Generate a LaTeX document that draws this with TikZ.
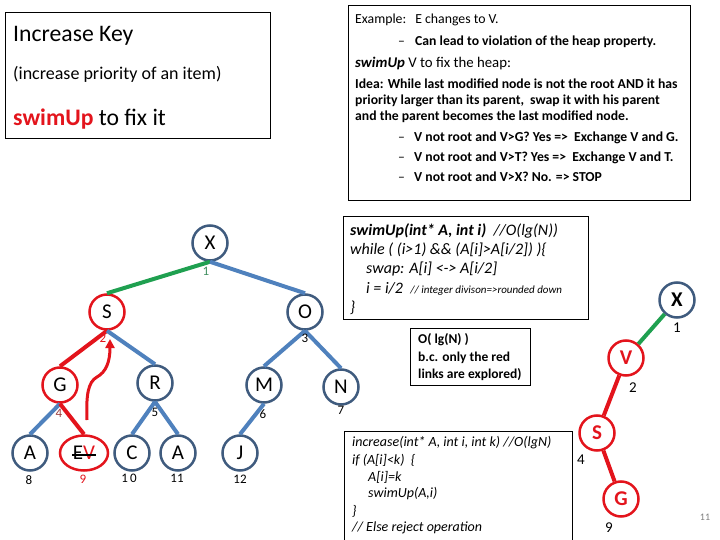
\documentclass[tikz,border=0pt]{standalone}
\usepackage{fontspec}
\setmainfont{Carlito}
\usetikzlibrary{arrows.meta,shapes.geometric}
\definecolor{eblue}{HTML}{4F81BD}
\definecolor{nblue}{HTML}{3F5B7E}
\definecolor{hred}{HTML}{E3141C}
\definecolor{hgreen}{HTML}{1FA050}
\definecolor{lgreen}{HTML}{3F8F5F}
\definecolor{dred}{HTML}{9A3A3A}
\tikzset{
  hn/.style={circle, draw=nblue, line width=2.5pt, minimum size=35pt, inner sep=0pt, font=\fontsize{21}{21}\selectfont},
  rn/.style={hn, draw=hred},
  bedge/.style={eblue, line width=4pt},
  redge/.style={hred, line width=4pt},
  gedge/.style={hgreen, line width=4pt},
  idx/.style={inner sep=0pt, font=\fontsize{13}{13}\selectfont},
  box/.style={draw, line width=0.8pt, anchor=north west, inner sep=0pt},
  txt/.style={anchor=base west, inner sep=0pt},
  exb/.style={txt, font=\fontsize{13.7}{13.7}\selectfont\bfseries},
  cod/.style={txt, font=\fontsize{16}{16}\selectfont\itshape},
  inc/.style={txt, font=\fontsize{14}{14}\selectfont\itshape},
}
\begin{document}
\begin{tikzpicture}[x=1pt,y=-1pt]
\useasboundingbox (0,0) rectangle (720,540);
% box 1
\node[box, minimum width=265pt, minimum height=126pt] (b1) at (5,12) {};
\node[txt, font=\fontsize{23.7}{23.7}\selectfont] (t1) at (13,42) {Increase Key};
\node[txt, font=\fontsize{18}{18}\selectfont] (t2) at (13,80) {(increase priority of an item)};
\node[txt, font=\fontsize{23.7}{23.7}\selectfont] (t3) at (13,126) {\textcolor{hred}{\textbf{swimUp}} to fix it};
% box 2
\node[box, minimum width=342pt, minimum height=195pt] (b2) at (348,5) {};
\node[txt, font=\fontsize{13.8}{13.8}\selectfont] (e1) at (355,23.5) {Example:\hspace{9pt}E changes to V.};
\node[txt, font=\fontsize{13.7}{13.7}\selectfont] (d1) at (398,45.5) {–};
\node[exb] (e2) at (415,45.5) {Can lead to violation of the heap property.};
\node[txt, font=\fontsize{14.8}{14.8}\selectfont] (e3) at (355,68) {\textbf{\textit{swimUp}} V to fix the heap:};
\node[exb] (e4) at (355,88.5) {Idea: While last modified node is not the root AND it has};
\node[exb] (e5) at (355,104.5) {priority larger than its parent,\ \ swap it with his parent};
\node[exb] (e6) at (355,120.5) {and the parent becomes the last modified node.};
\node[txt, font=\fontsize{13.7}{13.7}\selectfont] (d2) at (398,141.5) {–};
\node[exb] (e7) at (414,141.5) {V not root and V>G? Yes =>\ \ Exchange V and G.};
\node[txt, font=\fontsize{13.7}{13.7}\selectfont] (d3) at (398,161.5) {–};
\node[exb] (e8) at (414,161.5) {V not root and V>T? Yes =>\ \ Exchange V and T.};
\node[txt, font=\fontsize{13.7}{13.7}\selectfont] (d4) at (398,181.5) {–};
\node[exb] (e9) at (414,181.5) {V not root and V>X? No. => STOP};
% box 3 code
\node[box, minimum width=245pt, minimum height=103pt] (b3) at (343,216) {};
\node[cod] (c1) at (350,235.5) {\textbf{swimUp(int* A, int i)}\ \ //O(lg(N))};
\node[cod] (c2) at (350,254.5) {while ( (i>1) \&\& (A[i]>A[i/2]) )\{};
\node[cod] (c3) at (366,273.5) {swap: A[i] <-> A[i/2]};
\node[cod] (c4) at (366,293.5) {i = i/2\ \ {\fontsize{11}{11}\selectfont// integer divison=>rounded down}};
\node[cod] (c5) at (350,312.5) {\}};
% box 4
\node[box, minimum width=120pt, minimum height=57pt] (b4) at (410,328) {};
\node[txt, font=\fontsize{13.5}{13.5}\selectfont\bfseries] (o1) at (418,343.5) {O( lg(N) )};
\node[txt, font=\fontsize{13.5}{13.5}\selectfont\bfseries] (o2) at (418,361.5) {b.c. only the red};
\node[txt, font=\fontsize{13.5}{13.5}\selectfont\bfseries] (o3) at (418,378.5) {links are explored)};
% box 5
\node[box, minimum width=228pt, minimum height=115pt] (b5) at (344,431) {};
\node[inc] (i1) at (352,446.5) {increase(int* A, int i, int k) //O(lgN)};
\node[inc] (i2) at (352,464.5) {if (A[i]<k)\ \ \{};
\node[inc] (i3) at (368,481.5) {A[i]=k};
\node[inc] (i4) at (368,497.5) {swimUp(A,i)};
\node[inc] (i5) at (352,515.5) {\}};
\node[inc] (i6) at (352,531.5) {// Else reject operation};
% main tree
\node[hn] (X) at (210,243) {X};
\node[rn] (S) at (107,312) {S};
\node[hn] (O) at (305,312) {O};
\node[rn] (G) at (60,385) {G};
\node[hn] (R) at (155,383) {R};
\node[hn] (M) at (264,385) {M};
\node[hn] (N) at (341,387) {N};
\node[hn] (A1) at (30,453) {A};
\node[hn, ellipse, draw=hred, minimum width=48pt, minimum height=35pt] (EV) at (84,453) {E\textcolor{hred}{V}};
\node[hn] (C) at (132,453) {C};
\node[hn] (A2) at (178,453) {A};
\node[hn] (J) at (240,453) {J};
\draw[line width=1.2pt] ([xshift=-12pt,yshift=-2pt]EV.center) -- ([xshift=12pt,yshift=-2pt]EV.center);
\draw[gedge] (X.south) -- (S.north);
\draw[bedge] (X.south) -- (O.north);
\draw[redge] (S.south) -- (G.north);
\draw[bedge] (S.south) -- (R.north);
\draw[bedge] (O.south) -- (M.north);
\draw[bedge] (O.south) -- (N.north);
\draw[bedge] (G.south) -- (A1.north);
\draw[redge] (G.south) -- (EV.north);
\draw[bedge] (R.south) -- (C.north);
\draw[bedge] (R.south) -- (A2.north);
\draw[bedge] (M.south) -- (J.north);
\node[idx, text=lgreen] (n1) at (206,271) {1};
\node[idx, text=hred] (n2) at (103,338) {2};
\node[idx] (n3) at (305,338) {3};
\node[idx, text=dred] (n4) at (59,413) {4};
\node[idx] (n5) at (155,412) {5};
\node[idx] (n6) at (263,414) {6};
\node[idx] (n7) at (341,410) {7};
\node[idx] (n8) at (29,480) {8};
\node[idx, text=hred] (n9) at (83,479) {9};
\node[idx] (n10) at (129,478) {1\,0};
\node[idx] (n11) at (177,478) {11};
\node[idx] (n12) at (240,479) {12};
\coordinate (cs) at (87,420);
\coordinate (ce) at (110,339);
\draw[hred, line width=3pt, -{Triangle[length=9pt,width=9pt]}] (cs) .. controls (86,395) and (88,382) .. (97,377) .. controls (106,372) and (110,362) .. (ce);
% right tree
\node[hn] (X2) at (677,300) {\textbf{X}};
\node[rn, text=hred] (V2) at (626,358) {\textbf{V}};
\node[rn, text=hred] (S2) at (597,433) {\textbf{S}};
\node[rn, text=hred] (G2) at (621,499) {\textbf{G}};
\draw[gedge] (X2) -- (V2);
\draw[redge] (V2) -- (S2);
\draw[redge] (S2) -- (G2);
\node[idx, font=\fontsize{15}{15}\selectfont] (m1) at (677,328) {1};
\node[idx, font=\fontsize{15}{15}\selectfont] (m2) at (633,388) {2};
\node[idx, font=\fontsize{15}{15}\selectfont] (m4) at (581,460) {4};
\node[idx, font=\fontsize{15}{15}\selectfont] (m9) at (609,528) {9};
\node[idx, text=gray, font=\fontsize{10}{10}\selectfont] (pg) at (705,517) {11};
\end{tikzpicture}
\end{document}
